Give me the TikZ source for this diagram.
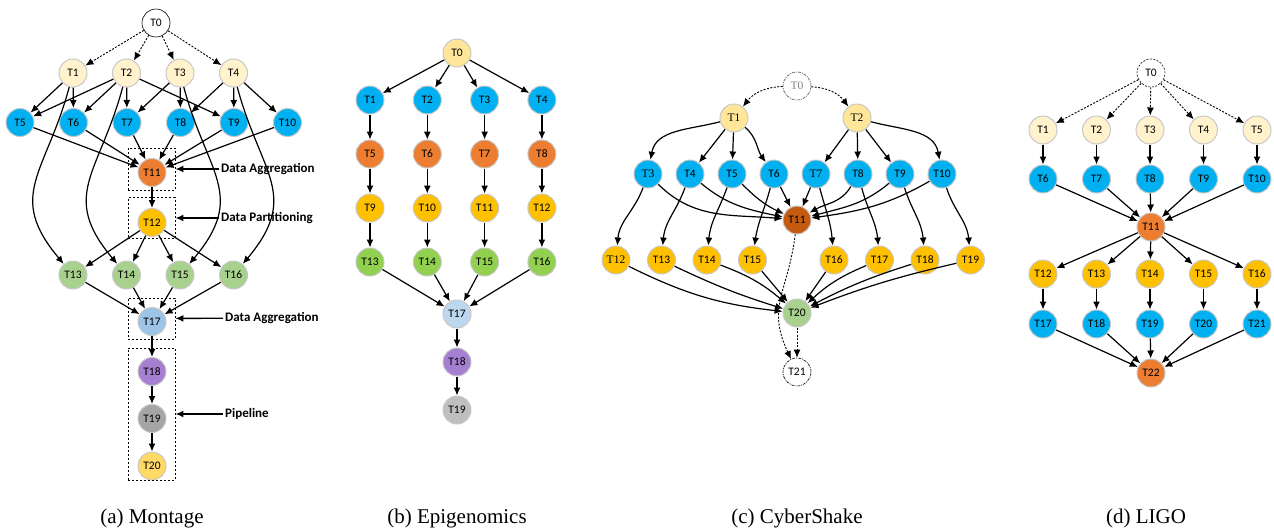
\documentclass[tikz,border=0pt]{standalone}
\usepackage{fontspec}
\setmainfont{Liberation Serif}
\newfontfamily\carlito{Carlito}
\newfontfamily\timesnum{Liberation Serif}
\usetikzlibrary{arrows.meta, positioning}
\definecolor{cream}{HTML}{FFF2CC}
\definecolor{sand}{HTML}{FFE699}
\definecolor{sky}{HTML}{00B0F0}
\definecolor{carrot}{HTML}{ED7D31}
\definecolor{rust}{HTML}{C55A11}
\definecolor{amber}{HTML}{FFC000}
\definecolor{gold}{HTML}{FFD966}
\definecolor{sage}{HTML}{A9D18E}
\definecolor{lime}{HTML}{92D050}
\definecolor{steel}{HTML}{9DC3E6}
\definecolor{ice}{HTML}{BDD7EE}
\definecolor{lilac}{HTML}{A680D0}
\definecolor{ash}{HTML}{A5A5A5}
\definecolor{silver}{HTML}{BFBFBF}
\definecolor{rim}{HTML}{C8C8C8}
\tikzstyle{every node}=[font=\carlito\fontsize{11.5}{13}\selectfont]
\tikzstyle{task}=[circle, draw=rim, line width=1pt, minimum size=28pt, inner sep=0pt]
\tikzstyle{ghost}=[circle, draw=black, line width=0.6pt, fill=white, minimum size=28pt, inner sep=0pt]
\tikzstyle{flow}=[->, line width=1.2pt]
\tikzstyle{virtual}=[->, line width=0.9pt, dash pattern=on 2pt off 1.5pt]
\tikzstyle{groupbox}=[draw, line width=0.9pt, dash pattern=on 2pt off 2pt, minimum width=47pt]
\tikzstyle{note}=[font=\carlito\bfseries\fontsize{13}{15}\selectfont, inner sep=2pt]
\tikzstyle{caption}=[font=\rmfamily\fontsize{21}{24}\selectfont]
\newcommand{\serifnum}{\timesnum\fontsize{11.5}{13}\selectfont}

\begin{document}
\begin{tikzpicture}[x=1pt, y=1pt, >={Latex[length=8pt, width=7pt]}]
  \useasboundingbox (0,0) rectangle (1274,-531);

  % (a) Montage
  \begin{scope}[node distance=53.5pt]
    \node[ghost] (m0) at (156,-23) {T0};
    \node[task, fill=cream] (m1) at (73,-73) {T1};
    \node[task, fill=cream, right of=m1] (m2) {T2};
    \node[task, fill=cream, right of=m2] (m3) {T3};
    \node[task, fill=cream, right of=m3] (m4) {T4};
    \node[task, fill=sky] (m5) at (20,-122.5) {T5};
    \node[task, fill=sky, right of=m5] (m6) {T6};
    \node[task, fill=sky, right of=m6] (m7) {T7};
    \node[task, fill=sky, right of=m7] (m8) {T8};
    \node[task, fill=sky, right of=m8] (m9) {T9};
    \node[task, fill=sky, right of=m9] (m10) {T10};
    \node[task, fill=carrot] (m11) at (152,-172.5) {T11};
    \node[task, fill=amber] (m12) at (152,-222.5) {T12};
    \node[task, fill=sage] (m13) at (73,-275) {T13};
    \node[task, fill=sage, right of=m13] (m14) {T14};
    \node[task, fill=sage, right of=m14] (m15) {T15};
    \node[task, fill=sage, right of=m15] (m16) {T16};
    \node[task, fill=steel] (m17) at (152,-321.5) {T17};
    \node[task, fill=lilac] (m18) at (152,-371.5) {T18};
    \node[task, fill=ash] (m19) at (152,-418.5) {T19};
    \node[task, fill=gold] (m20) at (152,-466) {T20};
  \end{scope}
  \node[groupbox, minimum height=42pt] (box11) at (151.5,-169) {};
  \node[groupbox, minimum height=41pt] (box12) at (151.5,-218) {};
  \node[groupbox, minimum height=41pt] (box17) at (151.5,-318.5) {};
  \node[groupbox, minimum height=132pt] (boxpipe) at (151.5,-414) {};
  \node[note, anchor=west] (agg1) at (219,-169) {Data Aggregation};
  \node[note, anchor=west] (part) at (219,-218) {Data Partitioning};
  \node[note, anchor=west] (agg2) at (223,-318) {Data Aggregation};
  \node[note, anchor=west] (pipe) at (223,-414) {Pipeline};
  \draw[flow, line width=1.4pt] (agg1) -- (box11);
  \draw[flow, line width=1.4pt] (part) -- (box12);
  \draw[flow, line width=1.4pt] (agg2) -- (box17);
  \draw[flow, line width=1.4pt] (pipe) -- (boxpipe);

  \draw[virtual] (m0) edge (m1) edge (m2) edge (m3) edge (m4);
  \draw[flow] (m1) edge (m5) edge (m6);
  \draw[flow] (m2) edge (m5) edge (m6) edge (m7) edge (m9);
  \draw[flow] (m3) edge (m7) edge (m8);
  \draw[flow] (m4) edge (m8) edge (m9) edge (m10);
  \draw[flow] (m1) edge[out=-105, in=130, looseness=1.3] (m13);
  \draw[flow] (m2) edge[out=-105, in=130, looseness=1.3] (m14);
  \draw[flow] (m3) edge[out=-75, in=50, looseness=1.3] (m15);
  \draw[flow] (m4) edge[out=-75, in=50, looseness=1.3] (m16);
  \draw[flow] (m5) edge (m11) (m6) edge (m11) (m7) edge (m11)
              (m8) edge (m11) (m9) edge (m11) (m10) edge (m11);
  \draw[flow] (m11) -- (m12);
  \draw[flow] (m12) edge (m13) edge (m14) edge (m15) edge (m16);
  \draw[flow] (m13) edge (m17) (m14) edge (m17) (m15) edge (m17) (m16) edge (m17);
  \draw[flow] (m17) -- (m18);
  \draw[flow] (m18) -- (m19);
  \draw[flow] (m19) -- (m20);

  % (b) Epigenomics
  \begin{scope}[node distance=57.3pt]
    \node[task, fill=sand] (e0) at (457,-53) {T0};
    \node[task, fill=sky] (e1) at (370,-100) {T1};
    \node[task, fill=sky, right of=e1] (e2) {T2};
    \node[task, fill=sky, right of=e2] (e3) {T3};
    \node[task, fill=sky, right of=e3] (e4) {T4};
    \node[task, fill=carrot] (e5) at (370,-154) {T5};
    \node[task, fill=carrot, right of=e5] (e6) {T6};
    \node[task, fill=carrot, right of=e6] (e7) {T7};
    \node[task, fill=carrot, right of=e7] (e8) {T8};
    \node[task, fill=amber] (e9) at (370,-208) {T9};
    \node[task, fill=amber, right of=e9] (e10) {T10};
    \node[task, fill=amber, right of=e10] (e11) {T11};
    \node[task, fill=amber, right of=e11] (e12) {T12};
    \node[task, fill=lime] (e13) at (370,-262) {T13};
    \node[task, fill=lime, right of=e13] (e14) {T14};
    \node[task, fill=lime, right of=e14] (e15) {T15};
    \node[task, fill=lime, right of=e15] (e16) {T16};
    \node[task, fill=ice] (e17) at (457,-314) {T17};
    \node[task, fill=lilac] (e18) at (457,-362) {T18};
    \node[task, fill=silver] (e19) at (457,-410) {T19};
  \end{scope}
  \draw[flow] (e0) edge (e1) edge (e2) edge (e3) edge (e4);
  \draw[flow] (e1) edge (e5) (e5) edge (e9) (e9) edge (e13);
  \draw[flow] (e2) edge (e6) (e6) edge (e10) (e10) edge (e14);
  \draw[flow] (e3) edge (e7) (e7) edge (e11) (e11) edge (e15);
  \draw[flow] (e4) edge (e8) (e8) edge (e12) (e12) edge (e16);
  \draw[flow] (e13) edge (e17) (e14) edge (e17) (e15) edge (e17) (e16) edge (e17);
  \draw[flow] (e17) -- (e18);
  \draw[flow] (e18) -- (e19);

  % (c) CyberShake
  \begin{scope}[node distance=42pt]
    \node[ghost, draw=black!70, dash pattern=on 3pt off 1pt on 1pt off 1pt, text=black!50,
          font=\serifnum] (c0) at (797,-86) {T0};
    \node[task, fill=sand, font=\serifnum] (c1) at (734,-118) {T1};
    \node[task, fill=sand, font=\serifnum] (c2) at (857,-118) {T2};
    \node[task, fill=sky, font=\serifnum] (c3) at (648,-174) {T3};
    \node[task, fill=sky, right of=c3] (c4) {T4};
    \node[task, fill=sky, right of=c4] (c5) {T5};
    \node[task, fill=sky, right of=c5] (c6) {T6};
    \node[task, fill=sky, right of=c6, font=\serifnum] (c7) {T7};
    \node[task, fill=sky, right of=c7] (c8) {T8};
    \node[task, fill=sky, right of=c8] (c9) {T9};
    \node[task, fill=sky, right of=c9] (c10) {T10};
    \node[task, fill=rust] (c11) at (797,-220) {T11};
  \end{scope}
  \begin{scope}[node distance=45.5pt]
    \node[task, fill=amber, font=\serifnum] (c12) at (616,-260) {T12};
    \node[task, fill=amber, right of=c12] (c13) {T13};
    \node[task, fill=amber, right of=c13] (c14) {T14};
    \node[task, fill=amber, right of=c14] (c15) {T15};
    \node[task, fill=amber] (c16) at (834,-260) {T16};
    \node[task, fill=amber, right of=c16] (c17) {T17};
    \node[task, fill=amber, right of=c17] (c18) {T18};
    \node[task, fill=amber, right of=c18] (c19) {T19};
    \node[task, fill=sage] (c20) at (797,-313) {T20};
    \node[ghost, dash pattern=on 3pt off 1pt on 1pt off 1pt] (c21) at (797,-372) {T21};
  \end{scope}
  \draw[virtual] (c0) to[bend right=25] (c1);
  \draw[virtual] (c0) to[bend left=25] (c2);
  \draw[flow] (c1) edge[out=195, in=80] (c3) edge (c4) edge (c5) edge[out=-40, in=125] (c6);
  \draw[flow] (c2) edge (c7) edge (c8) edge (c9) edge[out=-15, in=100] (c10);
  \draw[flow] (c3) edge[out=-45, in=175] (c11) (c4) edge[out=-40, in=168] (c11)
              (c5) edge[out=-45, in=155] (c11) (c6) edge (c11) (c7) edge (c11)
              (c8) edge[out=-120, in=30] (c11) (c9) edge[out=-140, in=15] (c11)
              (c10) edge[out=-150, in=8] (c11);
  \draw[flow] (c3) edge[out=-110, in=85] (c12) (c4) edge[out=-110, in=85] (c13)
              (c5) edge[out=-110, in=85] (c14) (c6) edge[out=-105, in=82] (c15);
  \draw[flow] (c7) edge[out=-75, in=95] (c16) (c8) edge[out=-75, in=95] (c17)
              (c9) edge[out=-72, in=95] (c18) (c10) edge[out=-72, in=95] (c19);
  \draw[flow] (c12) edge[bend right=10] (c20) (c13) edge[bend right=4] (c20)
              (c14) edge[bend left=10] (c20) (c15) edge (c20) (c16) edge (c20)
              (c17) edge[bend right=10] (c20) (c18) edge[bend right=5] (c20)
              (c19) edge[bend right=4] (c20);
  \draw[virtual] (c11) to[out=-97, in=115, looseness=1.2] (c21);
  \draw[virtual] (c20) -- (c21);

  % (d) LIGO
  \begin{scope}[node distance=53.5pt]
    \node[ghost, dash pattern=on 2pt off 1.5pt] (l0) at (1151,-73) {T0};
    \node[task, fill=cream] (l1) at (1043,-130) {T1};
    \node[task, fill=cream, right of=l1] (l2) {T2};
    \node[task, fill=cream, right of=l2] (l3) {T3};
    \node[task, fill=cream, right of=l3] (l4) {T4};
    \node[task, fill=cream, right of=l4] (l5) {T5};
    \node[task, fill=sky] (l6) at (1043,-179) {T6};
    \node[task, fill=sky, right of=l6] (l7) {T7};
    \node[task, fill=sky, right of=l7] (l8) {T8};
    \node[task, fill=sky, right of=l8] (l9) {T9};
    \node[task, fill=sky, right of=l9] (l10) {T10};
    \node[task, fill=carrot] (l11) at (1151,-227) {T11};
    \node[task, fill=amber] (l12) at (1043,-274) {T12};
    \node[task, fill=amber, right of=l12] (l13) {T13};
    \node[task, fill=amber, right of=l13] (l14) {T14};
    \node[task, fill=amber, right of=l14] (l15) {T15};
    \node[task, fill=amber, right of=l15] (l16) {T16};
    \node[task, fill=sky] (l17) at (1043,-324) {T17};
    \node[task, fill=sky, right of=l17] (l18) {T18};
    \node[task, fill=sky, right of=l18] (l19) {T19};
    \node[task, fill=sky, right of=l19] (l20) {T20};
    \node[task, fill=sky, right of=l20] (l21) {T21};
    \node[task, fill=carrot] (l22) at (1151,-373) {T22};
  \end{scope}
  \draw[virtual] (l0) edge (l1) edge (l2) edge (l3) edge (l4) edge (l5);
  \draw[flow] (l1) edge (l6) (l2) edge (l7) (l3) edge (l8) (l4) edge (l9) (l5) edge (l10);
  \draw[flow] (l6) edge (l11) (l7) edge (l11) (l8) edge (l11) (l9) edge (l11) (l10) edge (l11);
  \draw[flow] (l11) edge (l12) edge (l13) edge (l14) edge (l15) edge (l16);
  \draw[flow] (l12) edge (l17) (l13) edge (l18) (l14) edge (l19) (l15) edge (l20) (l16) edge (l21);
  \draw[flow] (l17) edge (l22) (l18) edge (l22) (l19) edge (l22) (l20) edge (l22) (l21) edge (l22);

  % captions
  \node[caption] (capa) at (152,-518) {(a) Montage};
  \node[caption] (capb) at (457,-518) {(b) Epigenomics};
  \node[caption] (capc) at (797,-518) {(c) CyberShake};
  \node[caption] (capd) at (1146,-518) {(d) LIGO};
\end{tikzpicture}
\end{document}
